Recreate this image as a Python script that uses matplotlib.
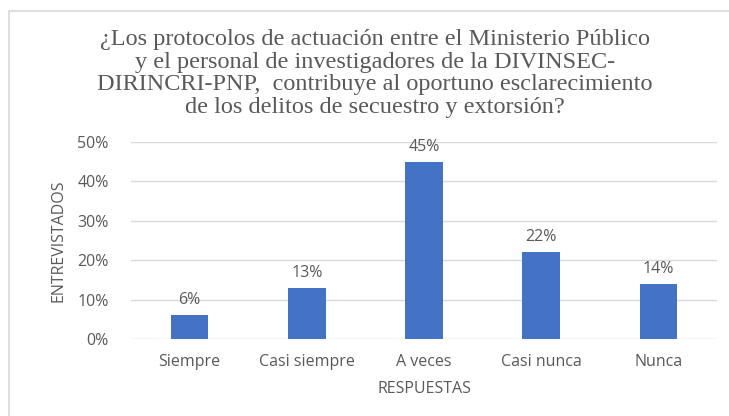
import matplotlib
matplotlib.use("Agg")
from matplotlib import pyplot as plt
from matplotlib.patches import Rectangle

categorias = ["Siempre", "Casi siempre", "A veces", "Casi nunca", "Nunca"]
porcentajes = [6, 13, 45, 22, 14]
yticks = [0, 10, 20, 30, 40, 50]

titulo = ("¿Los protocolos de actuación entre el Ministerio Público\n"
          "y el personal de investigadores de la DIVINSEC-\n"
          "DIRINCRI-PNP,  contribuye al oportuno esclarecimiento\n"
          "de los delitos de secuestro y extorsión?")

gris = "#595959"
azul = "#4472C4"
fuente = "Open Sans"

fig = plt.figure(figsize=(7.29, 4.16), dpi=100)
ax = fig.add_axes([131 / 729, 1 - 339 / 416, 586 / 729, 197 / 416])

# marco del gráfico
fig.patches.append(Rectangle((9 / 729, -0.05), 1.0, 1 - 11 / 416 + 0.05,
                             transform=fig.transFigure, fill=False,
                             edgecolor="#D9D9D9", linewidth=1.2))

x = range(len(categorias))
bars = ax.bar(x, porcentajes, width=0.32, color=azul, zorder=3)
for b, v in zip(bars, porcentajes):
    ax.text(b.get_x() + b.get_width() / 2, v + 1.8, f"{v}%", ha="center",
            va="bottom", fontsize=11.5, color=gris, family=fuente)

ax.set_xlim(-0.5, len(categorias) - 0.5)
ax.set_ylim(0, 50)
ax.set_yticks(yticks)
ax.set_yticklabels([f"{t}%" for t in yticks], family=fuente, fontsize=11.5, color=gris)
ax.set_xticks(list(x))
ax.set_xticklabels(categorias, family=fuente, fontsize=11.5, color=gris)
ax.tick_params(length=0)
ax.tick_params(axis="y", pad=16)
ax.tick_params(axis="x", pad=11)
ax.grid(axis="y", color="#D9D9D9", linewidth=1, zorder=0)
for s in ax.spines.values():
    s.set_visible(False)

ax.set_xlabel("RESPUESTAS", family=fuente, fontsize=11.5, color=gris, labelpad=8)
ax.set_ylabel("ENTREVISTADOS", family=fuente, fontsize=11.5, color=gris, labelpad=8)

fig.text(375 / 729, 1 - 29 / 416, titulo, ha="center", va="top", family="Liberation Serif",
         fontsize=17.5, color=gris, linespacing=1.1)

plt.savefig("out.png", dpi=100)
plt.close()
